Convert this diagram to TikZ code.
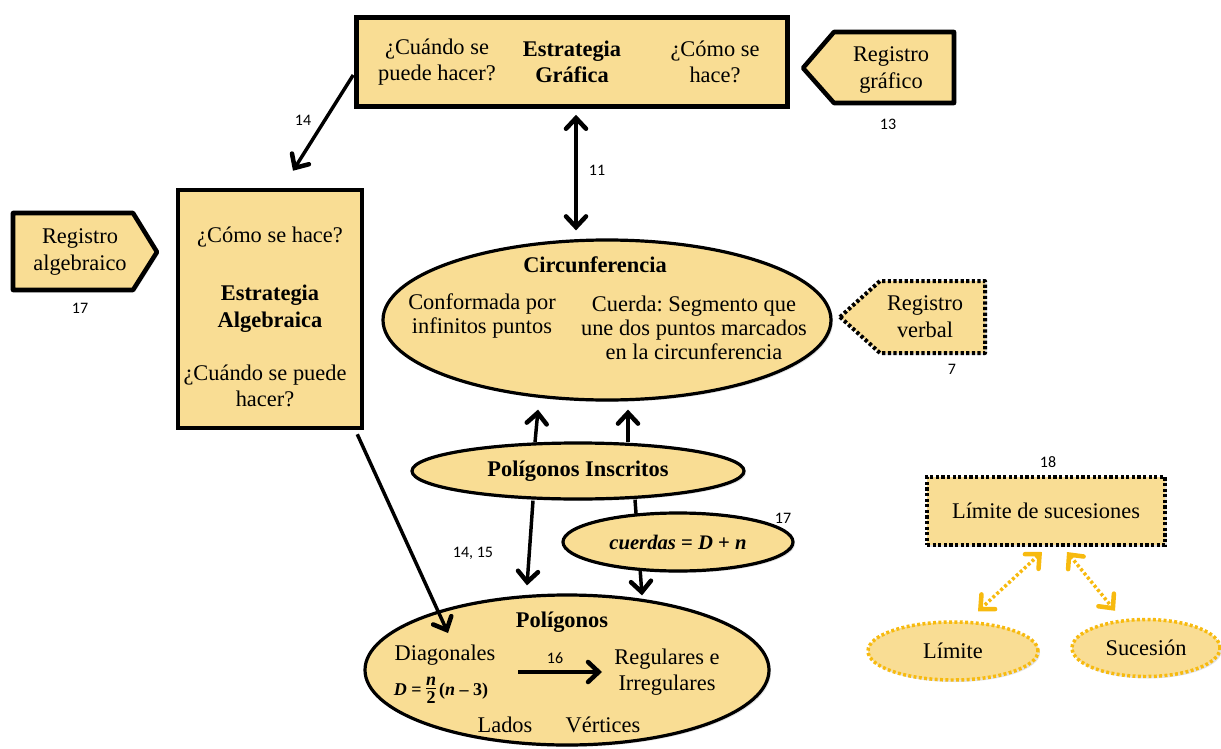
\documentclass[tikz,border=0pt]{standalone}
\usepackage{fontspec}
\setmainfont{Liberation Serif}
\newfontfamily\numfont{Carlito}
\usetikzlibrary{shapes.geometric,arrows.meta,shadows,calc}
\definecolor{fillc}{HTML}{F9DD94}
\definecolor{goldc}{HTML}{F7BA0F}
\newcommand{\bi}[1]{\textbf{\textit{#1}}}
\frenchspacing
\tikzset{
  mytip/.tip={Straight Barb[length=8pt,width=15pt,line width=3.4pt,line cap=round,line join=miter]},
}
\begin{document}
\begin{tikzpicture}[x=0.75pt,y=-0.75pt,
  every node/.style={font=\fontsize{16.8}{20}\selectfont, inner sep=0pt, align=center},
  sh/.style={drop shadow={opacity=0.22,shadow xshift=1.5pt,shadow yshift=-1.5pt}},
  solidbox/.style={rectangle, draw=black, line width=3.4pt, fill=fillc, sh},
  ell/.style={ellipse, draw=black, line width=2.4pt, fill=fillc, sh},
  dotbox/.style={rectangle, draw=black, line width=3pt, dash pattern=on 2.4pt off 1.8pt, fill=fillc, sh},
  goldell/.style={ellipse, draw=goldc, line width=2.6pt, dash pattern=on 2.2pt off 1.8pt, fill=fillc, sh},
  arr/.style={line width=2.6pt, -mytip},
  darr/.style={line width=2.6pt, mytip-mytip},
  garr/.style={draw=goldc, line width=2.6pt, dash pattern=on 2.2pt off 1.8pt, mytip-mytip},
  num/.style={font=\numfont\fontsize{12}{14}\selectfont},
  bt/.style={font=\bfseries\fontsize{16.8}{20}\selectfont},
  ct/.style={font=\fontsize{16.8}{17.8}\selectfont},
  mt/.style={font=\fontsize{15.5}{17}\selectfont},
  ft/.style={font=\fontsize{13.5}{13}\selectfont},
]
\useasboundingbox (0,0) rectangle (1221,749);

% ---- Estrategia Grafica
\node[solidbox, minimum width=431*0.75pt, minimum height=89*0.75pt] (eg) at (572,62) {};
\node (egq1) at (437,62) {¿Cuándo se\\puede hacer?};
\node[bt] (egt) at (572,62) {Estrategia\\Gráfica};
\node (egq2) at (715,62) {¿Cómo se\\hace?};

% ---- Registro grafico
\draw[line width=3.4pt, line join=round, fill=fillc, sh] (803,68) -- (834,32) -- (954,32) -- (954,103) -- (834,103) -- cycle;
\node (rg) at (891,70) {Registro\\gráfico};
\node[num] (n13) at (888,124) {13};

% ---- Registro algebraico
\draw[line width=3.4pt, line join=round, fill=fillc, sh] (13,213) -- (133,213) -- (157,252) -- (133,290) -- (13,290) -- cycle;
\node (ra) at (80,252) {Registro\\algebraico};
\node[num] (n17a) at (80,308) {17};

% ---- Estrategia Algebraica
\node[solidbox, minimum width=184*0.75pt, minimum height=238*0.75pt] (ea) at (270,309) {};
\node (eaq1) at (270,237) {¿Cómo se hace?};
\node[bt] (eat) at (270,309) {Estrategia\\Algebraica};
\node (eaq2) at (265,386) {¿Cuándo se puede\\hacer?};

% ---- Circunferencia
\node[ell, minimum width=448*0.75pt, minimum height=160*0.75pt] (circ) at (607,320) {};
\node[bt] (circt) at (595,265) {Circunferencia};
\node[ct] (circl) at (482,316) {Conformada por\\infinitos puntos};
\node[ct] (circr) at (694,328) {Cuerda: Segmento que\\une dos puntos marcados\\en la circunferencia};

% ---- Registro verbal
\draw[line width=3pt, dash pattern=on 2.4pt off 1.8pt, line join=round, fill=fillc, sh] (840,317) -- (880,281) -- (985,281) -- (985,353) -- (880,353) -- cycle;
\node (rv) at (925,317) {Registro\\verbal};
\node[num] (n7) at (952,369) {7};

% ---- Poligonos Inscritos and Poligonos
\node[ell, bt, minimum width=332*0.75pt, minimum height=56*0.75pt] (ins) at (578,471) {Polígonos Inscritos};
\node[ell, minimum width=404*0.75pt, minimum height=150*0.75pt] (pol) at (567,670) {};

\draw[arr] ($(ins.south)+(57,-1)$) -- ($(pol.north)+(75,2)$);

\node[ell, mt, minimum width=230*0.75pt, minimum height=58*0.75pt] (cue) at (678,542) {\bi{cuerdas} \textbf{=} \bi{D} \textbf{+} \bi{n}};
\node[num] (n17b) at (783,518) {17};

\node[bt] (polt) at (562,622) {Polígonos};
\node (diag) at (445,655) {Diagonales};
\node[ft] (form) at (441,691) {\bi{D} \textbf{=} \begin{tabular}[c]{@{}c@{}}\bi{n}\\[-2pt]\hline\rule{0pt}{11pt}\textbf{2}\end{tabular}\,\textbf{(}\bi{n} \textbf{–} \textbf{3)}};
\node (reg) at (667,672) {Regulares e\\Irregulares};
\node (lad) at (505,725) {Lados};
\node (ver) at (603,725) {Vértices};
\draw[arr] ($(pol.center)+(-49,2)$) -- ($(pol.center)+(35,2)$);
\node[num] (n16) at (555,658) {16};

% ---- connectors
\draw[arr] ($(eg.west)+(-1,13)$) -- ($(ea.north)+(23,-17)$);
\node[num] (n14) at (303,120) {14};
\draw[darr] ($(eg.south)+(4,6)$) -- ($(circ.north)+(-31,-8)$);
\node[num] (n11) at (597,170) {11};
\draw[arr] ($(ins.north)+(-43,1)$) -- ($(circ.south)+(-69,8)$);
\draw[arr] ($(ins.north)+(50,1)$) -- ($(circ.south)+(21,8)$);
\draw[arr] ($(ins.south)+(-45,0)$) -- ($(pol.north)+(-40,-8)$);
\node[num] (n1415) at (473,553) {14, 15};
\draw[arr] ($(ea.south east)+(-7,4)$) -- ($(pol.center)+(-119,-37)$);

% ---- Limite de sucesiones
\node[dotbox, minimum width=238*0.75pt, minimum height=68*0.75pt] (ls) at (1046,511) {Límite de sucesiones};
\node[num] (n18) at (1048,462) {18};
\node[goldell, minimum width=170*0.75pt, minimum height=58*0.75pt] (lim) at (953,651) {Límite};
\node[goldell, minimum width=148*0.75pt, minimum height=57*0.75pt] (suc) at (1146,648) {Sucesión};
\draw[garr] ($(ls.south)+(-4,5)$) -- ($(lim.north)+(25,-9)$);
\draw[garr] ($(ls.south)+(21,5)$) -- ($(suc.north)+(-31,-7)$);
\end{tikzpicture}
\end{document}
